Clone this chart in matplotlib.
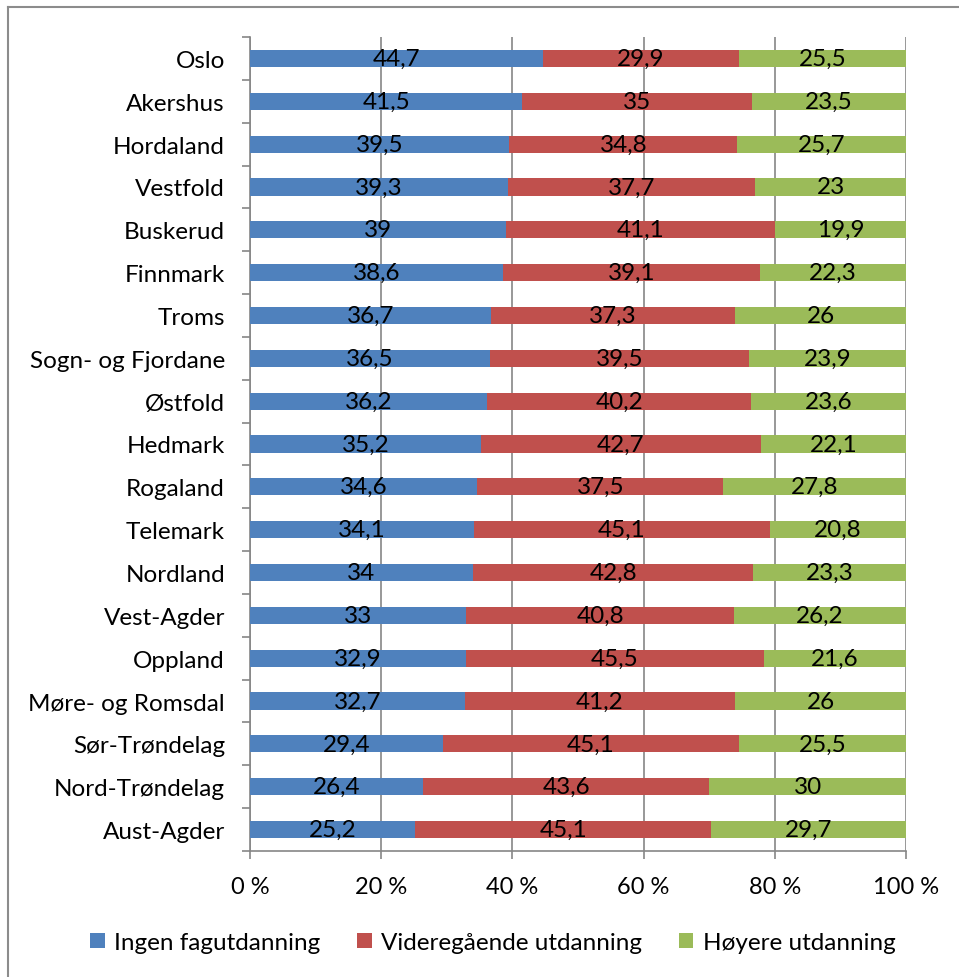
import numpy as np
import matplotlib.pyplot as plt
from matplotlib.lines import Line2D

plt.rcParams['font.family'] = ['Lato', 'DejaVu Sans']

counties = ["Oslo", "Akershus", "Hordaland", "Vestfold", "Buskerud", "Finnmark",
            "Troms", "Sogn- og Fjordane", "Østfold", "Hedmark", "Rogaland",
            "Telemark", "Nordland", "Vest-Agder", "Oppland", "Møre- og Romsdal",
            "Sør-Trøndelag", "Nord-Trøndelag", "Aust-Agder"]
ingen = [44.7, 41.5, 39.5, 39.3, 39, 38.6, 36.7, 36.5, 36.2, 35.2, 34.6,
         34.1, 34, 33, 32.9, 32.7, 29.4, 26.4, 25.2]
videregaende = [29.9, 35, 34.8, 37.7, 41.1, 39.1, 37.3, 39.5, 40.2, 42.7, 37.5,
                45.1, 42.8, 40.8, 45.5, 41.2, 45.1, 43.6, 45.1]
hoyere = [25.5, 23.5, 25.7, 23, 19.9, 22.3, 26, 23.9, 23.6, 22.1, 27.8,
          20.8, 23.3, 26.2, 21.6, 26, 25.5, 30, 29.7]

series = [("Ingen fagutdanning", ingen, "#4F81BD"),
          ("Videregående utdanning", videregaende, "#C0504D"),
          ("Høyere utdanning", hoyere, "#9BBB59")]

FS = 17.5
W, H = 959, 978
fig = plt.figure(figsize=(W / 100, H / 100), dpi=100)
ax = fig.add_axes([250 / W, (H - 852) / H, (906 - 250) / W, (852 - 38) / H])

y = np.arange(len(counties))
total = np.array(ingen) + np.array(videregaende) + np.array(hoyere)
left = np.zeros(len(counties))
handles = []
for name, vals, color in series:
    vals = np.array(vals, dtype=float)
    pct = vals / total * 100
    bars = ax.barh(y, pct, left=left, height=0.4, color=color, label=name, zorder=3)
    for yi, l, p, v in zip(y, left, pct, vals):
        txt = f"{v:g}".replace(".", ",")
        ax.text(l + p / 2, yi, txt, ha="center", va="center", fontsize=FS,
                color="black", zorder=4)
    left = left + pct
    handles.append(bars)

ax.set_xlim(0, 100)
ax.set_ylim(len(counties) - 0.5, -0.5)
ax.set_xticks(np.arange(0, 101, 20))
ax.set_xticklabels([f"{t} %" for t in range(0, 101, 20)], fontsize=17)
ax.set_yticks(np.arange(len(counties) + 1) - 0.5)
ax.set_yticklabels([])
ax.set_yticks(y, minor=True)
ax.set_yticklabels(counties, minor=True, fontsize=FS)
ax.tick_params(axis="y", which="minor", length=0, pad=18)
ax.tick_params(axis="y", which="major", length=6, width=1.2, color="#868686")
ax.tick_params(axis="x", length=6, width=1.2, color="#868686", pad=12)
ax.xaxis.grid(True, color="#868686", linewidth=1.2, zorder=0)
for s in ["top", "right"]:
    ax.spines[s].set_visible(False)
for s in ["left", "bottom"]:
    ax.spines[s].set_color("#868686")
    ax.spines[s].set_linewidth(1.2)

fig.legend(handles=handles, loc="center", bbox_to_anchor=(0.514, 0.035),
           ncol=3, frameon=False, fontsize=FS, handlelength=0.6,
           handleheight=0.6, handletextpad=0.4, columnspacing=1.5)

fig.add_artist(Line2D([8 / W, 8 / W], [0, 1 - 8 / H], transform=fig.transFigure,
                      color="#8c8c8c", linewidth=1.5))
fig.add_artist(Line2D([8 / W, 1], [1 - 8 / H, 1 - 8 / H], transform=fig.transFigure,
                      color="#8c8c8c", linewidth=1.5))

fig.savefig("out.png", dpi=100)
